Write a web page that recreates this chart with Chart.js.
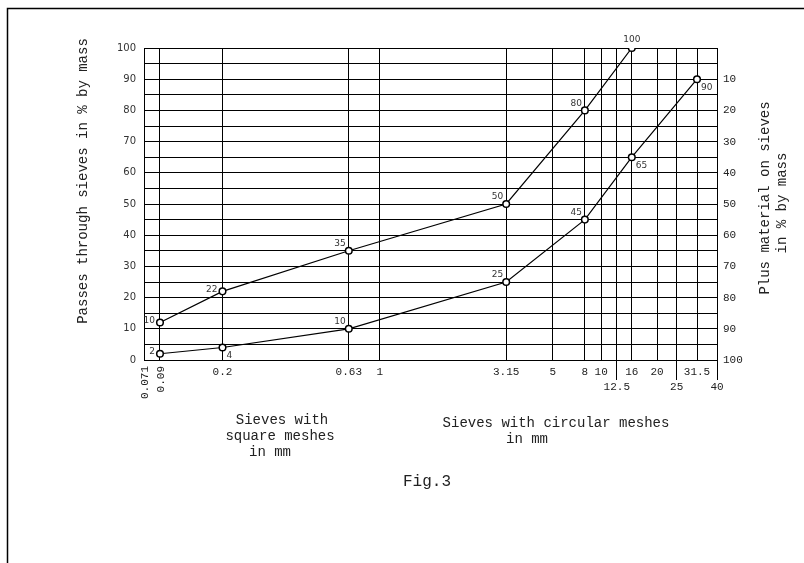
<!DOCTYPE html>
<html>
<head>
<meta charset="utf-8">
<script src="https://cdn.jsdelivr.net/npm/chart.js@4"></script>
<style>
  html, body { margin: 0; padding: 0; background: #fff; }
  #wrap { width: 804px; height: 563px; }
</style>
</head>
<body>
<div id="wrap"><canvas id="grading" width="804" height="563"></canvas></div>
<script>
// Sieve sizes in mm along the bottom axis
const SIEVES = [0.071, 0.09, 0.2, 0.63, 1, 3.15, 5, 8, 10, 12.5, 16, 20, 25, 31.5, 40];
// Where each sieve sits on the printed axis (0 = left edge, 100 = right edge)
const SIEVE_POS = [0, 2.79, 13.7, 35.74, 41.14, 63.21, 71.36, 76.94, 79.78, 82.51, 85.13, 89.54, 92.97, 96.51, 100];
// Sieves whose label goes on the second row / is written vertically
const SIEVES_ROW2 = [12.5, 25, 40];
const SIEVES_VERTICAL = [0.071, 0.09];

// Upper grading curve
const CURVE_A_SIEVES = [0.09, 0.2, 0.63, 3.15, 8, 16];
const CURVE_A_PASS = [12, 22, 35, 50, 80, 100];
const CURVE_A_LABELS = ['10', '22', '35', '50', '80', '100'];
const CURVE_A_LABEL_SIDE = ['w', 'w', 'nw', 'nw', 'nw', 'n'];

// Lower grading curve
const CURVE_B_SIEVES = [0.09, 0.2, 0.63, 3.15, 8, 16, 31.5];
const CURVE_B_PASS = [2, 4, 10, 25, 45, 65, 90];
const CURVE_B_LABELS = ['2', '4', '10', '25', '45', '65', '90'];
const CURVE_B_LABEL_SIDE = ['w', 'se', 'nw', 'nw', 'nw', 'se', 'se'];

const MONO = '"Liberation Mono", "Courier New", monospace';
const SANS = '"DejaVu Sans", sans-serif';

// Position of a sieve size along the axis, 0..1
function sieveFraction(v) {
  if (v <= SIEVES[0]) return 0;
  for (let i = 0; i < SIEVES.length - 1; i++) {
    const a = SIEVES[i], b = SIEVES[i + 1];
    if (v <= b) {
      const t = (Math.log(v) - Math.log(a)) / (Math.log(b) - Math.log(a));
      return (SIEVE_POS[i] + t * (SIEVE_POS[i + 1] - SIEVE_POS[i])) / 100;
    }
  }
  return 1;
}

// Scale for the sieve axis of the grading chart
class SieveScale extends Chart.LinearScale {
  buildTicks() {
    return SIEVES.map(v => ({ value: v }));
  }
  getPixelForValue(value) {
    return this.getPixelForDecimal(sieveFraction(value));
  }
  getValueForPixel(pixel) {
    const f = this.getDecimalForPixel(pixel) * 100;
    for (let i = 0; i < SIEVES.length - 1; i++) {
      if (f <= SIEVE_POS[i + 1]) {
        const t = (f - SIEVE_POS[i]) / (SIEVE_POS[i + 1] - SIEVE_POS[i]);
        return Math.exp(Math.log(SIEVES[i]) + t * (Math.log(SIEVES[i + 1]) - Math.log(SIEVES[i])));
      }
    }
    return SIEVES[SIEVES.length - 1];
  }
}
SieveScale.id = 'sieve';
SieveScale.defaults = Chart.LinearScale.defaults;
Chart.register(SieveScale);

function toPoints(sieves, values) {
  return sieves.map((s, i) => ({ x: s, y: values[i] }));
}

const LABEL_OFFSETS = {
  w:  { dx: -5, dy: -2, align: 'right' },
  nw: { dx: -3, dy: -7, align: 'right' },
  n:  { dx: 0,  dy: -8, align: 'center' },
  se: { dx: 4,  dy: 8,  align: 'left' }
};

const extras = {
  id: 'extras',
  beforeDraw(chart) {
    const ctx = chart.ctx;
    ctx.save();
    ctx.strokeStyle = '#000';
    ctx.lineWidth = 1.5;
    ctx.beginPath();
    ctx.moveTo(7.5, 563);
    ctx.lineTo(7.5, 8.5);
    ctx.lineTo(804, 8.5);
    ctx.stroke();
    ctx.restore();
  },
  afterDatasetsDraw(chart) {
    const ctx = chart.ctx;
    const sets = [
      [CURVE_A_LABELS, CURVE_A_LABEL_SIDE],
      [CURVE_B_LABELS, CURVE_B_LABEL_SIDE]
    ];
    ctx.save();
    ctx.font = '9px ' + SANS;
    ctx.fillStyle = '#333';
    ctx.textBaseline = 'middle';
    sets.forEach(([labels, sides], di) => {
      chart.getDatasetMeta(di).data.forEach((pt, i) => {
        const o = LABEL_OFFSETS[sides[i]];
        ctx.textAlign = o.align;
        ctx.fillText(labels[i], pt.x + o.dx, pt.y + o.dy);
      });
    });
    ctx.restore();
  },
  afterDraw(chart) {
    const ctx = chart.ctx;
    const x = chart.scales.x;
    ctx.save();
    ctx.fillStyle = '#222';
    ctx.textBaseline = 'middle';

    // sieve labels
    ctx.font = '11px ' + MONO;
    SIEVES.forEach(s => {
      const px = x.getPixelForValue(s);
      if (SIEVES_VERTICAL.includes(s)) {
        ctx.save();
        ctx.translate(px + 1, 366);
        ctx.rotate(-Math.PI / 2);
        ctx.textAlign = 'right';
        ctx.fillText(String(s), 0, 0);
        ctx.restore();
      } else {
        ctx.textAlign = 'center';
        ctx.fillText(String(s), px, SIEVES_ROW2.includes(s) ? 387 : 372);
      }
    });

    // axis titles
    ctx.font = '14px ' + MONO;
    ctx.textAlign = 'center';
    const vtext = (t, cx, cy) => {
      ctx.save();
      ctx.translate(cx, cy);
      ctx.rotate(-Math.PI / 2);
      ctx.fillText(t, 0, 0);
      ctx.restore();
    };
    vtext('Passes through sieves in % by mass', 83, 181);
    vtext('Plus material on sieves', 765, 198);
    vtext('in % by mass', 782, 203);

    ctx.fillText('Sieves with', 282, 420);
    ctx.fillText('square meshes', 280, 436);
    ctx.fillText('in mm', 270, 452);
    ctx.fillText('Sieves with circular meshes', 556, 423);
    ctx.fillText('in mm', 527, 439);

    ctx.font = '16px ' + MONO;
    ctx.fillText('Fig.3', 427, 482);
    ctx.restore();
  }
};

const ctx = document.getElementById('grading').getContext('2d');
const chart = new Chart(ctx, {
  type: 'line',
  data: {
    datasets: [{
      label: 'Curve A',
      data: toPoints(CURVE_A_SIEVES, CURVE_A_PASS),
      borderColor: '#000',
      borderWidth: 1.2,
      pointBackgroundColor: '#fff',
      pointBorderColor: '#000',
      pointBorderWidth: 1.5,
      pointRadius: 3.3,
      tension: 0,
      fill: false
    }, {
      label: 'Curve B',
      data: toPoints(CURVE_B_SIEVES, CURVE_B_PASS),
      borderColor: '#000',
      borderWidth: 1.2,
      pointBackgroundColor: '#fff',
      pointBorderColor: '#000',
      pointBorderWidth: 1.5,
      pointRadius: 3.3,
      tension: 0,
      fill: false
    }]
  },
  options: {
    responsive: false,
    animation: false,
    layout: { padding: { top: 48, left: 0, right: 0, bottom: 0 } },
    plugins: {
      legend: { display: false },
      tooltip: { enabled: false }
    },
    scales: {
      x: {
        type: 'sieve',
        min: 0.071,
        max: 40,
        border: { display: true, color: '#000', width: 1 },
        grid: {
          color: '#000',
          lineWidth: 1,
          drawTicks: true,
          tickLength: 20,
          tickColor: c => (c.tick && SIEVES_ROW2.includes(c.tick.value)) ? '#000' : 'rgba(0,0,0,0)'
        },
        ticks: { display: false, autoSkip: false },
        afterFit: s => { s.height = 203; }
      },
      y: {
        position: 'left',
        min: 0,
        max: 100,
        border: { display: true, color: '#000', width: 1 },
        grid: { color: '#000', lineWidth: 1, drawTicks: false },
        ticks: {
          stepSize: 5,
          padding: 8,
          color: '#333',
          font: { family: SANS, size: 10 },
          callback: v => (v % 10 === 0 ? v : '')
        },
        afterFit: s => { s.width = 144; }
      },
      y2: {
        position: 'right',
        min: 0,
        max: 100,
        reverse: true,
        border: { display: true, color: '#000', width: 1 },
        grid: { drawOnChartArea: false, drawTicks: false },
        ticks: {
          stepSize: 10,
          padding: 6,
          color: '#222',
          font: { family: MONO, size: 11 },
          callback: v => (v === 0 ? '' : v)
        },
        afterFit: s => { s.width = 87; }
      }
    }
  },
  plugins: [extras]
});
</script>
</body>
</html>
